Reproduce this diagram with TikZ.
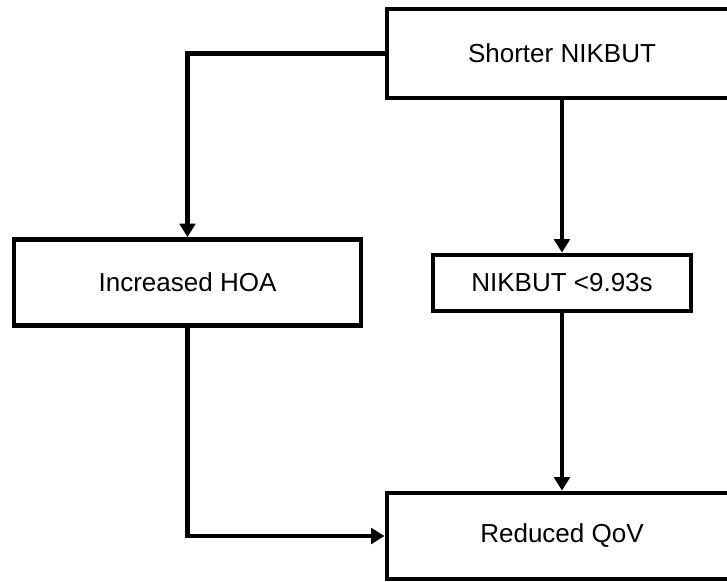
\documentclass[tikz,border=0pt]{standalone}
\usepackage{fontspec}
\setmainfont{Liberation Sans}
\usetikzlibrary{arrows.meta}

\begin{document}
\begin{tikzpicture}[x=0.025cm,y=-0.025cm,
  box/.style={draw,line width=3.4pt,inner sep=0pt,font=\fontsize{18.5}{22}\selectfont},
  link/.style={line width=2.9pt,-{Triangle[length=9.5pt,width=11pt]}}]
% Page
\useasboundingbox (0,0) rectangle (727,582);
\clip (0,0) rectangle (727,582);
% Boxes
\node[box,minimum width=8.75cm,minimum height=2.225cm] (short) at (562,53.5) {Shorter NIKBUT};
\node[box,minimum width=8.675cm,minimum height=2.15cm] (hoa) at (187.5,282.5) {Increased HOA};
\node[box,minimum width=6.45cm,minimum height=1.4cm] (cut) at (562,283) {NIKBUT <9.93s};
\node[box,minimum width=8.75cm,minimum height=2.15cm] (qov) at (562,536) {Reduced QoV};
% Connecting the boxes
\draw[link] (short.west) -| (hoa.north);
\draw[link] (short.south) -- (cut.north);
\draw[link] (cut.south) -- (qov.north);
\draw[link] (hoa.south) |- (qov.west);
\end{tikzpicture}
\end{document}
